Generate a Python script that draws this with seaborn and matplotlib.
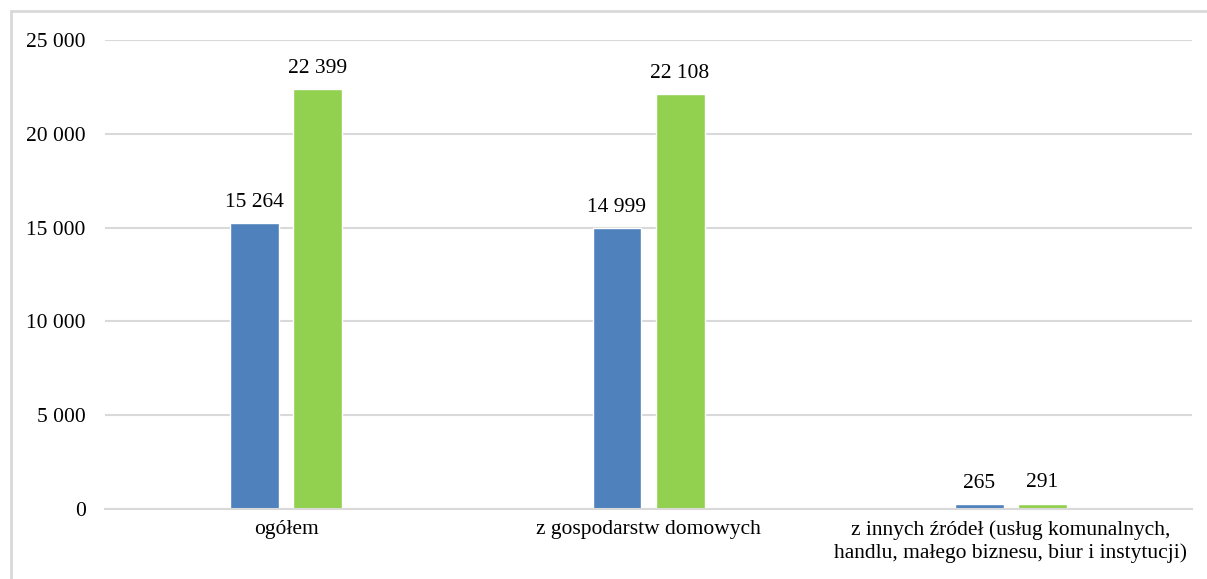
import matplotlib
matplotlib.use("Agg")
import matplotlib.pyplot as plt
from matplotlib.lines import Line2D
from matplotlib.ticker import FuncFormatter
import pandas as pd
import seaborn as sns

categories = [
    "ogółem",
    "z gospodarstw domowych",
    "z innych źródeł (usług komunalnych,\nhandlu, małego biznesu, biur i instytucji)",
]
series_names = ["okres 1", "okres 2"]
values_1 = [15264, 14999, 265]
values_2 = [22399, 22108, 291]
y_ticks = [0, 5000, 10000, 15000, 20000, 25000]

colors = ["#4F81BD", "#92D050"]
grid_color = "#D9D9D9"
font_size = 15.5

df = pd.DataFrame({
    "kategoria": categories * 2,
    "seria": [series_names[0]] * 3 + [series_names[1]] * 3,
    "wartosc": values_1 + values_2,
})

sns.set_theme(style="white")
plt.rcParams["font.family"] = ["Liberation Serif", "DejaVu Serif"]

fig = plt.figure(figsize=(12.07, 5.79), dpi=100)
ax = fig.add_axes([0.087, 0.1209, 0.9006, 0.81])

sns.barplot(
    data=df, x="kategoria", y="wartosc", hue="seria",
    order=categories, hue_order=series_names,
    palette=colors, width=0.348, gap=0.224, dodge=True,
    saturation=1, legend=False, ax=ax, errorbar=None,
)

ax.set_ylim(0, 25000)
ax.set_xlim(-0.5, 2.5)
ax.set_yticks(y_ticks)
ax.yaxis.set_major_formatter(
    FuncFormatter(lambda v, p: f"{int(v):,}".replace(",", " "))
)
ax.set_xlabel("")
ax.set_ylabel("")

ax.grid(axis="y", color=grid_color, linewidth=1.5)
ax.set_axisbelow(True)
for side in ["top", "right", "left"]:
    ax.spines[side].set_visible(False)
ax.spines["bottom"].set_color(grid_color)
ax.spines["bottom"].set_linewidth(1.5)

ax.tick_params(axis="y", length=0, pad=14, labelsize=font_size, colors="black")
ax.tick_params(axis="x", length=0, pad=8, labelsize=font_size, colors="black")

for container in ax.containers:
    labels = [f"{int(b.get_height()):,}".replace(",", " ") for b in container]
    ax.bar_label(container, labels=labels, padding=8, fontsize=font_size, color="black")

# outer frame (top and left edges)
fig.add_artist(Line2D([11 / 1207, 1.0], [1 - 11 / 579] * 2,
                      transform=fig.transFigure, color=grid_color, linewidth=2))
fig.add_artist(Line2D([11 / 1207] * 2, [0.0, 1 - 11 / 579],
                      transform=fig.transFigure, color=grid_color, linewidth=2))

fig.savefig("out.png", dpi=100)
